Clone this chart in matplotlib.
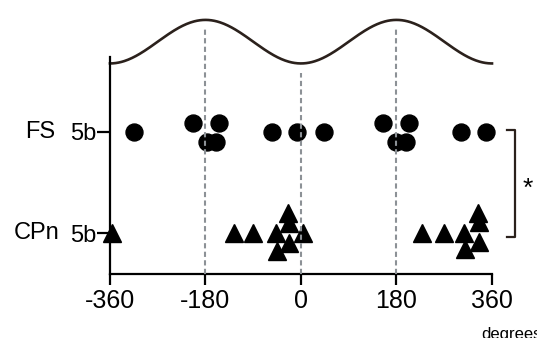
import numpy as np
import matplotlib
matplotlib.use("Agg")
import matplotlib.pyplot as plt

plt.rcParams["font.family"] = ["Liberation Sans", "DejaVu Sans"]

# rows (y position of each group) and their labels
row_names = ["CPn", "FS"]
row_ticks = ["5b", "5b"]
row_y = [1, 2]

# FS phases (degrees) and small vertical offsets for stacked points
fs_deg = [-314, -204, -155, -178, -161, -54, -8, 44, 154, 204, 180, 197, 302, 349]
fs_off = [0, 0.09, 0.09, -0.1, -0.1, 0, 0, 0, 0.09, 0.09, -0.1, -0.1, 0, 0]

# CPn phases (degrees) and offsets
cpn_deg = [-357, -127, -91, -48, -25, -22, 3, -22, -46,
           229, 269, 308, 333, 335, 335, 310]
cpn_off = [0, 0, 0, 0, 0.2, 0.1, 0, -0.1, -0.18,
           0, 0, 0, 0.2, 0.11, -0.09, -0.16]

x_ticks = [-360, -180, 0, 180, 360]
dash_x = [-180, 0, 180]

INK = "#2b211c"
GREY = "#8c9196"

fig = plt.figure(figsize=(5.37, 3.38), dpi=100)
ax = fig.add_axes([0.2048, 0.1893, 0.7114, 0.7663])
ax.set_xlim(-360, 360)
ax.set_ylim(0.594, 3.158)

# reference sine wave on top
def wave(x):
    return 2.894 - 0.2155 * np.cos(np.radians(x))

xs = np.linspace(-360, 360, 400)
ax.plot(xs, wave(xs), color=INK, lw=1.9, clip_on=False)

# dashed guide lines up to just under the wave
for xd in dash_x:
    ax.plot([xd, xd], [0.594, wave(xd) - 0.09], color=GREY, lw=1.5,
            ls=(0, (2.5, 1.6)), zorder=5)

ax.plot(fs_deg, np.array(fs_off) + row_y[1], "o", color="black", ms=12.2,
        mec="black", clip_on=False, zorder=3)
ax.plot(cpn_deg, np.array(cpn_off) + row_y[0], "^", color="black", ms=13,
        mec="black", clip_on=False, zorder=3)

# spines
for s in ["top", "right"]:
    ax.spines[s].set_visible(False)
ax.spines["left"].set_bounds(0.594, 2.743)
ax.spines["left"].set_linewidth(1.6)
ax.spines["bottom"].set_linewidth(1.6)

ax.set_xticks(x_ticks)
ax.set_xticklabels([str(t) for t in x_ticks], fontsize=18)
ax.tick_params(axis="x", length=8, width=1.6, pad=3)
ax.set_yticks(row_y)
ax.set_yticklabels(row_ticks, fontsize=17)
ax.tick_params(axis="y", length=9.5, width=1.6, pad=0.5)

# group names to the left of the tick labels
ax.text(-0.183, row_y[1], row_names[1], transform=ax.get_yaxis_transform(),
        fontsize=17, ha="center", va="center")
ax.text(-0.193, row_y[0], row_names[0], transform=ax.get_yaxis_transform(),
        fontsize=17, ha="center", va="center")

# significance bracket
ax.plot([388, 403, 403, 388], [2.02, 2.02, 0.96, 0.96], color=INK, lw=1.6,
        clip_on=False)
ax.text(427, 1.44, "*", fontsize=19, ha="center", va="center")

ax.text(0.971, -0.235, "degrees", transform=ax.transAxes, fontsize=12,
        ha="left", va="center")

fig.savefig("out.png", dpi=100)
